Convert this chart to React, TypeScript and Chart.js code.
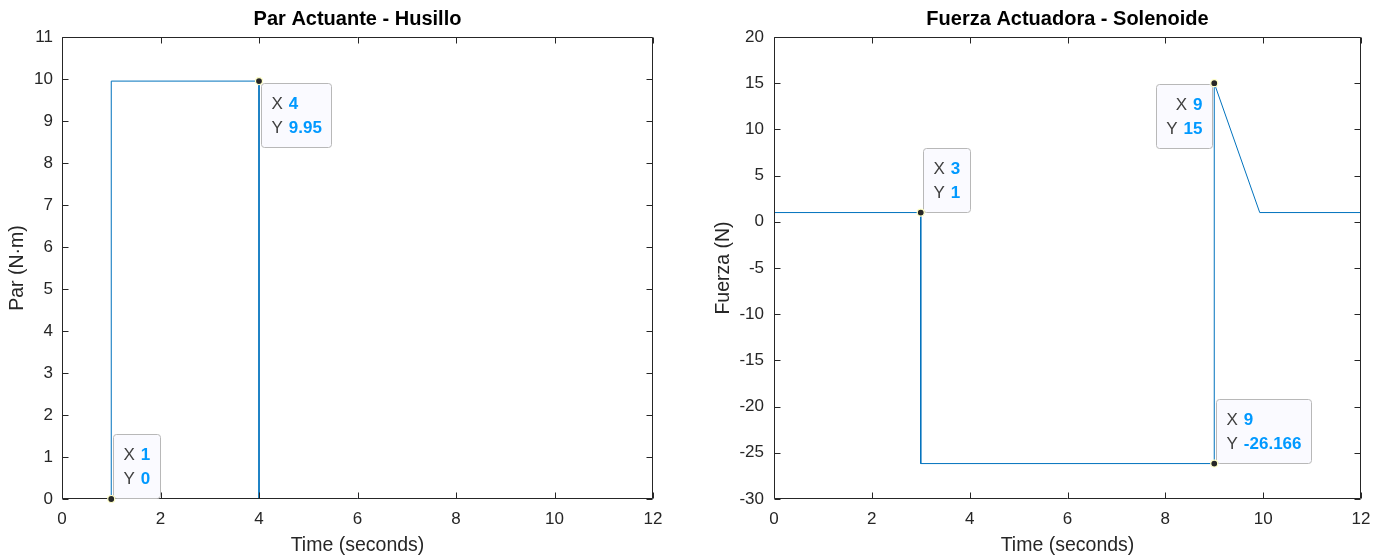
import React, { useEffect, useRef } from 'react';
import { Chart, registerables } from 'chart.js';

Chart.register(...registerables);

// ---- Data ----
const parTime = [0, 1, 1, 4, 4, 12];
const parValue = [0, 0, 9.95, 9.95, 0, 0];
const parTipTime = [1, 4];
const parTipValue = [0, 9.95];

const fuerzaTime = [0, 3, 3, 9, 9, 9.93, 12];
const fuerzaValue = [1, 1, -26.166, -26.166, 15, 1, 1];
const fuerzaTipTime = [3, 9, 9];
const fuerzaTipValue = [1, 15, -26.166];

const timeTicks = [0, 2, 4, 6, 8, 10, 12];
const parTicks = [0, 1, 2, 3, 4, 5, 6, 7, 8, 9, 10, 11];
const fuerzaTicks = [-30, -25, -20, -15, -10, -5, 0, 5, 10, 15, 20];

// ---- Styling ----
const FONT = "'Liberation Sans', Arial, Helvetica, sans-serif";
const AXIS_COLOR = '#262626';
const LINE_COLOR = '#0072BD';

type Placement = 'ne' | 'se' | 'sw' | 'nw';

interface PanelCfg {
  title: string;
  yLabel: string;
  time: number[];
  values: number[];
  tipTime: number[];
  tipValue: number[];
  tipPlacement: Placement[];
  yTicks: number[];
  yAxisWidth: number;
  padRight: number;
  yTitlePad: number;
  yTickPad: number;
}

function makePlugin(cfg: PanelCfg) {
  return {
    id: 'matlabDecor',
    afterDatasetsDraw(chart: any) {
      const { ctx, chartArea: a } = chart;
      const xs = chart.scales.x;
      const ys = chart.scales.y;
      ctx.save();
      // frame
      const L = Math.round(a.left) + 0.5;
      const R = Math.round(a.right) - 0.5;
      const T = Math.round(a.top) + 0.5;
      const B = Math.round(a.bottom) - 0.5;
      ctx.strokeStyle = AXIS_COLOR;
      ctx.lineWidth = 1;
      ctx.beginPath();
      ctx.rect(L, T, R - L, B - T);
      const TL = 6;
      xs.ticks.forEach((t: any) => {
        const px = Math.round(xs.getPixelForValue(t.value)) + 0.5;
        ctx.moveTo(px, B);
        ctx.lineTo(px, B - TL);
        ctx.moveTo(px, T);
        ctx.lineTo(px, T + TL);
      });
      ys.ticks.forEach((t: any) => {
        const py = Math.round(ys.getPixelForValue(t.value)) + 0.5;
        ctx.moveTo(L, py);
        ctx.lineTo(L + TL, py);
        ctx.moveTo(R, py);
        ctx.lineTo(R - TL, py);
      });
      ctx.stroke();

      // title
      ctx.fillStyle = '#000';
      ctx.font = `bold 20px ${FONT}`;
      ctx.textAlign = 'center';
      ctx.textBaseline = 'middle';
      ctx.fillText(cfg.title, (a.left + a.right) / 2, 19);

      // data tips
      const tipFont = 17;
      cfg.tipTime.forEach((tx, i) => {
        const ty = cfg.tipValue[i];
        const px = xs.getPixelForValue(tx);
        const py = ys.getPixelForValue(ty);
        const lines = [
          ['X', String(tx)],
          ['Y', String(ty)],
        ];
        const gap = 6;
        const widths = lines.map(([l, v]) => {
          ctx.font = `${tipFont}px ${FONT}`;
          const lw = ctx.measureText(l).width;
          ctx.font = `bold ${tipFont}px ${FONT}`;
          const vw = ctx.measureText(v).width;
          return { lw, vw, w: lw + gap + vw };
        });
        const maxW = Math.max(...widths.map((w) => w.w));
        const bw = Math.round(maxW + 20);
        const bh = 64;
        const pl = cfg.tipPlacement[i];
        let bx: number, by: number;
        if (pl === 'ne') { bx = px + 2; by = py - 1 - bh; }
        else if (pl === 'se') { bx = px + 2; by = py + 2; }
        else if (pl === 'sw') { bx = px - 2 - bw; by = py + 1; }
        else { bx = px - 2 - bw; by = py - 1 - bh; }
        bx = Math.round(bx) + 0.5;
        by = Math.round(by) + 0.5;
        // box
        ctx.beginPath();
        const r = 3;
        ctx.moveTo(bx + r, by);
        ctx.lineTo(bx + bw - r, by);
        ctx.arcTo(bx + bw, by, bx + bw, by + r, r);
        ctx.lineTo(bx + bw, by + bh - r);
        ctx.arcTo(bx + bw, by + bh, bx + bw - r, by + bh, r);
        ctx.lineTo(bx + r, by + bh);
        ctx.arcTo(bx, by + bh, bx, by + bh - r, r);
        ctx.lineTo(bx, by + r);
        ctx.arcTo(bx, by, bx + r, by, r);
        ctx.closePath();
        ctx.fillStyle = '#FAFAFF';
        ctx.fill();
        ctx.strokeStyle = '#B8B8B8';
        ctx.lineWidth = 1;
        ctx.stroke();
        // text
        ctx.textBaseline = 'middle';
        ctx.textAlign = 'left';
        const rightAlign = pl === 'sw' || pl === 'nw';
        lines.forEach(([l, v], k) => {
          const cy = by + 21 + k * 24;
          const w = widths[k];
          const sx = rightAlign ? bx + bw - 10 - w.w : bx + 10;
          ctx.font = `${tipFont}px ${FONT}`;
          ctx.fillStyle = '#404040';
          ctx.fillText(l, sx, cy);
          ctx.font = `bold ${tipFont}px ${FONT}`;
          ctx.fillStyle = '#0099FF';
          ctx.fillText(v, sx + w.lw + gap, cy);
        });
        // marker
        ctx.beginPath();
        ctx.arc(px, py, 3.5, 0, Math.PI * 2);
        ctx.fillStyle = '#262626';
        ctx.fill();
        ctx.strokeStyle = '#FFFFC8';
        ctx.lineWidth = 1.2;
        ctx.stroke();
      });
      ctx.restore();
    },
  };
}

function Panel({ cfg }: { cfg: PanelCfg }) {
  const ref = useRef<HTMLCanvasElement>(null);
  useEffect(() => {
    if (!ref.current) return;
    const chart = new Chart(ref.current, {
      type: 'line',
      data: {
        datasets: [
          {
            data: cfg.time.map((t, i) => ({ x: t, y: cfg.values[i] })),
            borderColor: LINE_COLOR,
            borderWidth: 1,
            pointRadius: 0,
            tension: 0,
            fill: false,
          },
        ],
      },
      options: {
        responsive: false,
        animation: false,
        devicePixelRatio: 1,
        layout: { padding: { left: 0, right: cfg.padRight, top: 37, bottom: 0 } },
        plugins: {
          legend: { display: false },
          tooltip: { enabled: false },
          title: { display: false },
        },
        scales: {
          x: {
            type: 'linear',
            min: 0,
            max: 12,
            afterBuildTicks: (s: any) => { s.ticks = timeTicks.map((v) => ({ value: v })); },
            afterFit: (s: any) => { s.height = 60; },
            grid: { display: false, drawTicks: false },
            border: { display: false },
            ticks: {
              color: AXIS_COLOR,
              font: { family: FONT, size: 17 },
              padding: 10,
              maxRotation: 0,
              autoSkip: false,
            },
            title: {
              display: true,
              text: 'Time (seconds)',
              color: AXIS_COLOR,
              font: { family: FONT, size: 19.5 },
              padding: { top: 0, bottom: 2 },
            },
          },
          y: {
            type: 'linear',
            min: cfg.yTicks[0],
            max: cfg.yTicks[cfg.yTicks.length - 1],
            afterBuildTicks: (s: any) => { s.ticks = cfg.yTicks.map((v) => ({ value: v })); },
            afterFit: (s: any) => { s.width = cfg.yAxisWidth; },
            grid: { display: false, drawTicks: false },
            border: { display: false },
            ticks: {
              color: AXIS_COLOR,
              font: { family: FONT, size: 17 },
              padding: cfg.yTickPad,
              autoSkip: false,
            },
            title: {
              display: true,
              text: cfg.yLabel,
              color: AXIS_COLOR,
              font: { family: FONT, size: 19.5 },
              padding: { top: cfg.yTitlePad, bottom: 0 },
            },
          },
        },
      },
      plugins: [makePlugin(cfg)],
    } as any);
    return () => chart.destroy();
  }, [cfg]);
  return <canvas ref={ref} width={692} height={559} style={{ display: 'block' }} />;
}

const leftCfg: PanelCfg = {
  title: 'Par Actuante - Husillo',
  yLabel: 'Par (N·m)',
  time: parTime,
  values: parValue,
  tipTime: parTipTime,
  tipValue: parTipValue,
  tipPlacement: ['ne', 'se'],
  yTicks: parTicks,
  yAxisWidth: 62,
  padRight: 39,
  yTitlePad: 6,
  yTickPad: 9,
};

const rightCfg: PanelCfg = {
  title: 'Fuerza Actuadora - Solenoide',
  yLabel: 'Fuerza (N)',
  time: fuerzaTime,
  values: fuerzaValue,
  tipTime: fuerzaTipTime,
  tipValue: fuerzaTipValue,
  tipPlacement: ['ne', 'sw', 'ne'],
  yTicks: fuerzaTicks,
  yAxisWidth: 82,
  padRight: 23,
  yTitlePad: 20,
  yTickPad: 10,
};

export default function App() {
  return (
    <div style={{ position: 'absolute', left: 0, top: 0, width: 1384, height: 559, background: '#fff' }}>
      <div style={{ position: 'absolute', left: 0, top: 0 }}>
        <Panel cfg={leftCfg} />
      </div>
      <div style={{ position: 'absolute', left: 692, top: 0 }}>
        <Panel cfg={rightCfg} />
      </div>
    </div>
  );
}
